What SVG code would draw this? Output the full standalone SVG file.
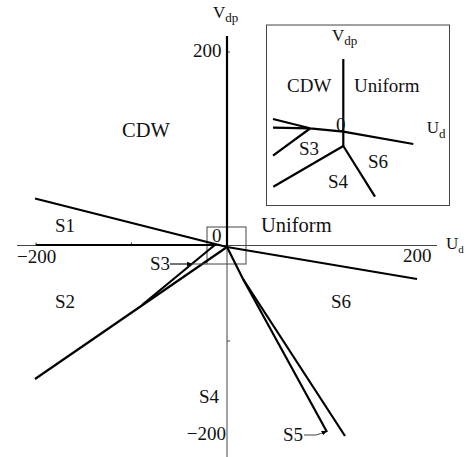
<svg xmlns="http://www.w3.org/2000/svg" width="466" height="457" viewBox="0 0 466 457">
<defs>
<style>
text{font-family:"Liberation Serif","Times New Roman",serif;font-size:19px;fill:#111}
.thick{stroke:#000;stroke-width:2.2;fill:none;stroke-linejoin:round}
.thin{stroke:#444;stroke-width:1;fill:none}
.sub{font-size:13px}
.big{font-size:20.5px}
</style>
<marker id="ah" viewBox="0 0 10 10" refX="9" refY="5" markerWidth="6" markerHeight="6" orient="auto" markerUnits="userSpaceOnUse">
<path d="M0,1 L10,5 L0,9 Z" fill="#000"/>
</marker>
</defs>
<rect width="466" height="457" fill="#fff"/>

<g id="axes">
<line class="thin" x1="17" y1="245.5" x2="437" y2="245.5"/>
<line class="thin" x1="227" y1="36" x2="227" y2="457"/>
<line class="thin" x1="36" y1="242.5" x2="36" y2="245.5"/>
<line class="thin" x1="131.5" y1="242.5" x2="131.5" y2="245.5"/>
<line class="thin" x1="227" y1="52" x2="230" y2="52"/>
<line class="thin" x1="227" y1="341" x2="230" y2="341"/>
<text x="193" y="57">200</text>
<text x="403" y="262">200</text>
<text x="17" y="263">−200</text>
<text x="226" y="440" text-anchor="end">−200</text>
<text x="213" y="18" style="font-size:17px">V<tspan class="sub" dy="4">dp</tspan></text>
<text x="446" y="249" style="font-size:17px">U<tspan style="font-size:11px" dy="4">d</tspan></text>
</g>

<g id="zoombox">
<rect class="thin" x="207" y="227" width="39" height="37"/>
<text x="212" y="241.5">0</text>
</g>

<g id="connectors">
<line class="thick" x1="227" y1="36" x2="227" y2="247"/>
<line class="thick" x1="36" y1="245" x2="216" y2="245"/>
<polyline class="thick" points="35,198.5 227,247 417,279"/>
<line class="thick" x1="35" y1="379" x2="227" y2="247"/>
<line class="thick" x1="142" y1="305" x2="216" y2="244"/>
<polyline class="thick" points="227,247 243,279 345,436"/>
<line class="thick" x1="243" y1="279" x2="327" y2="432"/>
<line class="thin" x1="170" y1="264" x2="207" y2="264"/>
<line class="thin" x1="170" y1="264" x2="192" y2="264" marker-end="url(#ah)"/>
<path class="thin" d="M304,435 L316,435 Q320,434 327,431" marker-end="url(#ah)"/>
</g>

<g id="labels">
<text class="big" x="122" y="137">CDW</text>
<text class="big" x="261" y="232">Uniform</text>
<text x="55" y="231.5">S1</text>
<text x="55" y="308">S2</text>
<text x="150" y="269.5">S3</text>
<text x="199" y="403">S4</text>
<text x="283" y="440.5">S5</text>
<text x="331" y="308">S6</text>
</g>

<g id="inset">
<rect class="thin" x="266.5" y="25" width="183" height="180.5"/>
<line class="thick" x1="343.3" y1="59" x2="343.3" y2="146"/>
<polyline class="thick" points="273,119 310,128.3 343.3,131.7 413.3,144"/>
<line class="thick" x1="273" y1="127.7" x2="310" y2="128.3"/>
<line class="thick" x1="273" y1="155.7" x2="310" y2="128.5"/>
<line class="thick" x1="273.3" y1="186.7" x2="343.3" y2="146"/>
<line class="thick" x1="343.3" y1="146" x2="375" y2="196.7"/>
<text x="332" y="41" style="font-size:17px">V<tspan class="sub" dy="4">dp</tspan></text>
<text x="287" y="92">CDW</text>
<text x="354" y="92">Uniform</text>
<text x="336" y="131">0</text>
<text x="426.7" y="133" style="font-size:17px">U<tspan class="sub" dy="5">d</tspan></text>
<text x="299" y="155">S3</text>
<text x="368" y="168">S6</text>
<text x="328" y="188">S4</text>
</g>
</svg>
